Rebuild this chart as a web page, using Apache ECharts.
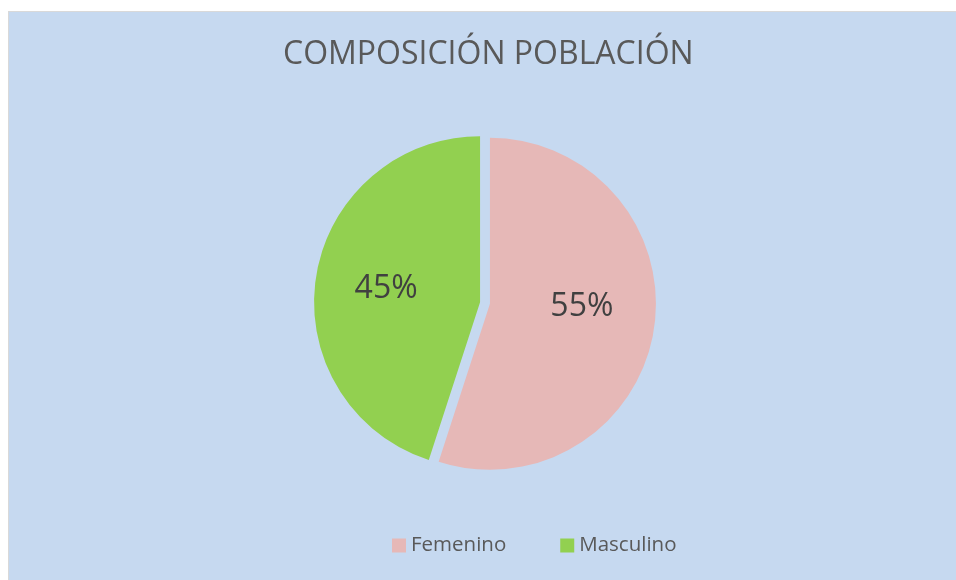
<!DOCTYPE html>
<html>
<head>
<meta charset="utf-8">
<script src="https://cdn.jsdelivr.net/npm/echarts@6/dist/echarts.min.js"></script>
<style>
  html, body { margin: 0; padding: 0; background: #fff; }
  #chart {
    position: absolute; left: 8px; top: 11px;
    width: 948px; height: 569px;
    background: #c6d9f0;
    border-left: 1px solid #d9d9d9; border-top: 1px solid #d9d9d9;
    box-sizing: border-box;
  }
</style>
</head>
<body>
<div id="chart"></div>
<script>
var titleText = 'COMPOSICIÓN POBLACIÓN';
var categories = ['Femenino', 'Masculino'];
var values = [55, 45];
var colors = ['#e6b8b7', '#92d050'];

var myChart = echarts.init(document.getElementById('chart'));

var pieData = categories.map(function (name, i) {
    return {
        name: name,
        value: values[i],
        selected: true,
        itemStyle: { color: colors[i] }
    };
});

// small nudges so the % labels sit where Excel put them
var labelNudge = [[7, -10], [-9, 0]];

var option = {
    animation: false,
    title: {
        text: titleText,
        left: 274,
        top: 27,
        padding: 0,
        textStyle: {
            fontFamily: 'Open Sans',
            fontSize: 32,
            fontWeight: 'normal',
            color: '#595959'
        }
    },
    legend: {
        data: categories,
        left: 383,
        top: 523,
        padding: 0,
        icon: 'rect',
        itemWidth: 14,
        itemHeight: 14,
        itemGap: 54,
        selectedMode: false,
        textStyle: {
            fontFamily: 'Open Sans',
            fontSize: 20.5,
            color: '#595959'
        }
    },
    series: [
        {
            type: 'pie',
            center: [476, 291],
            radius: 166,
            startAngle: 90,
            clockwise: true,
            selectedMode: 'multiple',
            selectedOffset: 5,
            label: {
                show: true,
                position: 'inner',
                formatter: '{d}%',
                fontFamily: 'Open Sans',
                fontSize: 32,
                color: '#404040'
            },
            labelLine: { show: false },
            labelLayout: function (p) {
                return { dx: labelNudge[p.dataIndex][0], dy: labelNudge[p.dataIndex][1] };
            },
            emphasis: { disabled: true },
            select: { itemStyle: { borderWidth: 0 } },
            data: pieData
        }
    ]
};
myChart.setOption(option);
</script>
</body>
</html>
